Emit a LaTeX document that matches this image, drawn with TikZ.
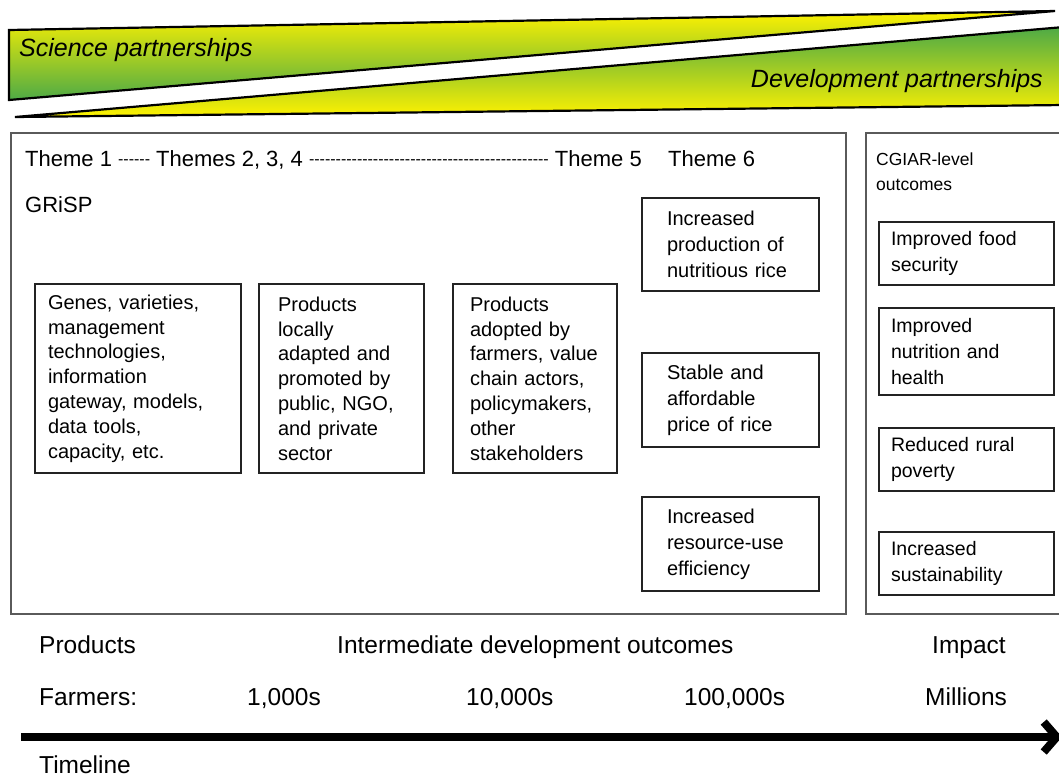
\documentclass[tikz,border=0pt]{standalone}
\usepackage{fontspec}
\setmainfont{Liberation Sans}
\usetikzlibrary{arrows.meta}

\definecolor{wedgeyellow}{RGB}{255,242,0}
\definecolor{wedgegreen}{RGB}{78,170,70}
\definecolor{framegray}{RGB}{90,90,90}
\definecolor{boxline}{RGB}{35,35,35}

\newcommand{\bxfont}{\fontsize{20}{24.8}\selectfont}
\newcommand{\sixfont}{\fontsize{20}{26}\selectfont}
\newcommand{\outfont}{\fontsize{19.5}{26}\selectfont}
\newcommand{\thmfont}{\fontsize{22}{26}\selectfont}
\newcommand{\cgfont}{\fontsize{17.5}{25}\selectfont}
\newcommand{\lblfont}{\fontsize{24.5}{29}\selectfont}
\newcommand{\wdgfont}{\fontsize{25}{29}\selectfont\itshape}

% a run of plain hyphens, set small and close together
\newcount\dashcnt
\newcommand{\dashrun}[1]{{\fontsize{16}{20}\selectfont\raisebox{1.6pt}{\dashcnt=#1\relax\loop\ifnum\dashcnt>0 -\kern0pt\advance\dashcnt by -1 \repeat}}}

\begin{document}
\begin{tikzpicture}[x=1pt, y=-1pt,
  outerbox/.style={draw=framegray, line width=1.5pt, inner sep=0pt},
  box/.style={draw=boxline, line width=1.2pt, align=left, font=\bxfont, inner ysep=0pt},
  sixbox/.style={box, font=\sixfont, minimum width=177, text width=127, inner xsep=25},
  cgbox/.style={box, font=\outfont, minimum width=175, text width=151, inner xsep=12},
  wedge/.style={draw=black, line width=2.2pt, line join=miter},
  txt/.style={inner sep=0pt, anchor=base west},
  lbl/.style={txt, font=\lblfont},
  thm/.style={txt, font=\thmfont},
  timeline/.style={line width=8pt, -{Straight Barb[length=13pt, width=30pt]}}]
\useasboundingbox (0,0) rectangle (1059,777);

% Top: partnership wedges
\draw[wedge, top color=wedgeyellow, middle color=wedgeyellow!88!wedgegreen, bottom color=wedgegreen] (9,30) -- (1055,11) -- (9,100) -- cycle;
\draw[wedge, top color=wedgegreen, middle color=wedgeyellow!88!wedgegreen, bottom color=wedgeyellow] (15,117) -- (1064,27) -- (1064,105) -- cycle;
\node[txt, font=\wdgfont] (sci) at (19,56) {Science partnerships};
\node[txt, anchor=base east, font=\wdgfont] (dev) at (1043,87) {Development partnerships};

% Frames
\node[outerbox, minimum width=835, minimum height=481] (grisp) at (428.5,373.5) {};
\node[outerbox, minimum width=204, minimum height=481] (cgiar) at (968,373.5) {};

% Theme headings
\node[thm] (themes) at (25,166) {Theme 1 \dashrun{6} Themes 2, 3, 4 \dashrun{45} Theme 5};
\node[thm] (theme6) at (668,166) {Theme 6};
\node[thm] (grisplbl) at (25,212) {GRiSP};
\node[inner sep=0pt, anchor=north west, align=left, font=\cgfont] (cglbl) at (876,153) {CGIAR-level\\outcomes};

% Themes 1 to 5: products and their uptake
\node[box, minimum width=206, minimum height=189, text width=180, inner xsep=13] (genes) at (138,378.5)
  {Genes, varieties,\\management\\technologies,\\information\\gateway, models,\\data tools,\\capacity, etc.};
\node[box, minimum width=165, minimum height=189, text width=127, inner xsep=19] (local) at (341.5,378.5)
  {Products\\locally\\adapted and\\promoted by\\public, NGO,\\and private\\sector};
\node[box, minimum width=164, minimum height=189, text width=130, inner xsep=17] (adopt) at (535,378.5)
  {Products\\adopted by\\farmers, value\\chain actors,\\policymakers,\\other\\stakeholders};

% Theme 6
\node[sixbox, minimum height=93] (prod) at (730.5,244.5) {Increased\\production of\\nutritious rice};
\node[sixbox, minimum height=94] (price) at (730.5,400) {Stable and\\affordable\\price of rice};
\node[sixbox, minimum height=94] (effic) at (730.5,544) {Increased\\resource-use\\efficiency};

% CGIAR-level outcomes
\node[cgbox, minimum height=63] (food) at (966.5,253.5) {Improved food\\security};
\node[cgbox, minimum height=87] (nutri) at (966.5,351.5) {Improved\\nutrition and\\health};
\node[cgbox, minimum height=63] (pov) at (966.5,459.5) {Reduced rural\\poverty};
\node[cgbox, minimum height=63] (sust) at (966.5,563.5) {Increased\\sustainability};

% Bottom: stages and scale
\node[lbl] (prods) at (39,653) {Products};
\node[lbl] (interm) at (337,653) {Intermediate development outcomes};
\node[lbl] (impact) at (932,653) {Impact};
\node[lbl] (farmers) at (39,705) {Farmers:};
\node[lbl] (thou) at (247,705) {1,000s};
\node[lbl] (tenthou) at (466,705) {10,000s};
\node[lbl] (hundthou) at (684,705) {100,000s};
\node[lbl] (mill) at (925,705) {Millions};

% Timeline arrow
\coordinate (tstart) at (21,737);
\coordinate (tend) at (1062,737);
\draw[timeline] (tstart) -- (tend);
\node[lbl] (tlbl) at (39,773) {Timeline};

\end{tikzpicture}
\end{document}
